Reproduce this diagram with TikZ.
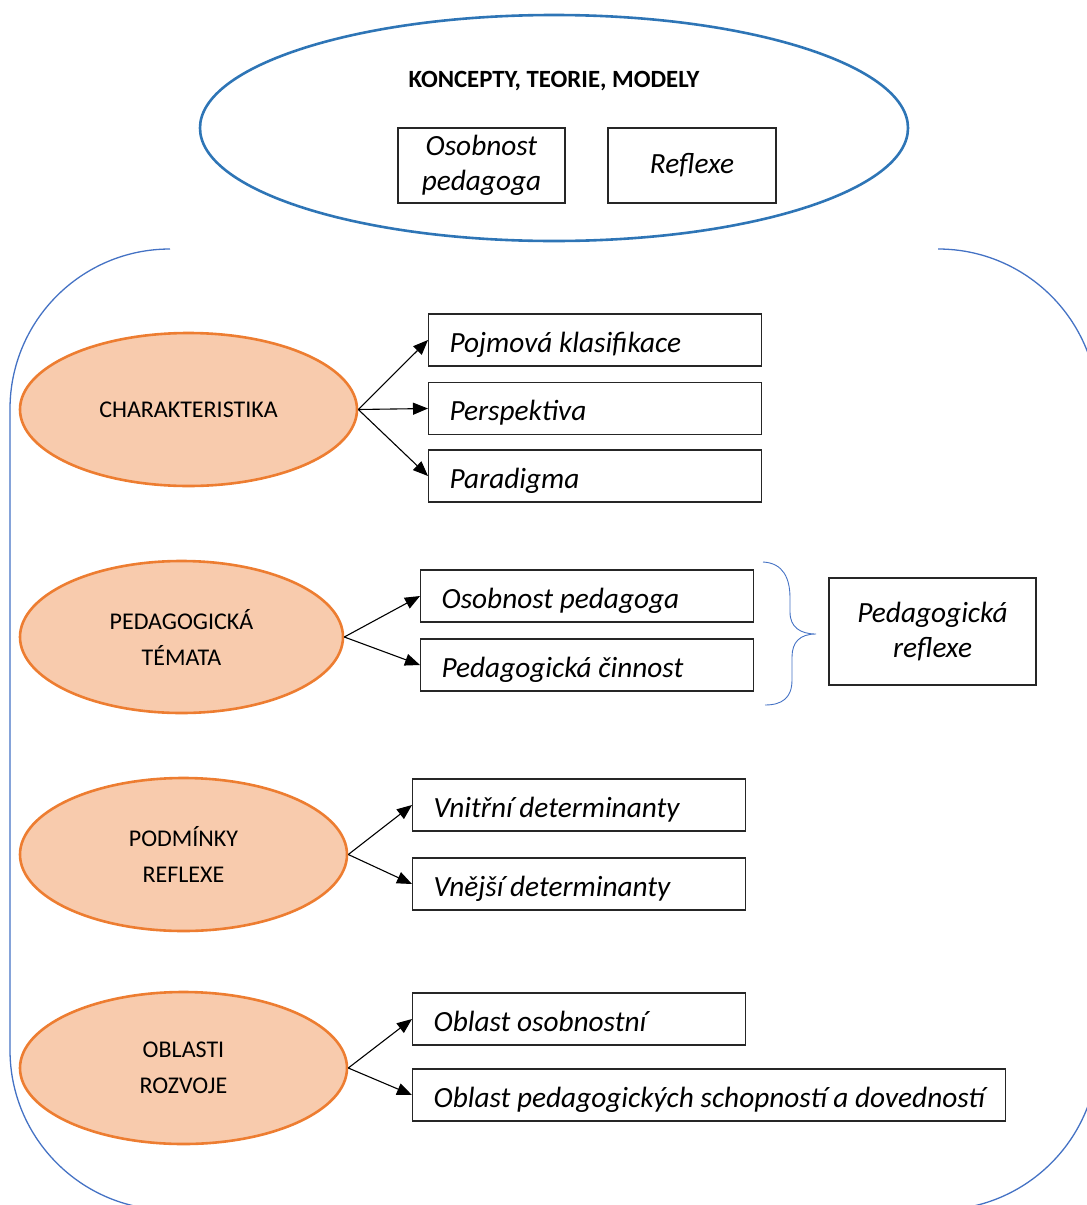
\documentclass[tikz,border=0pt]{standalone}
\usepackage{fontspec}
\setmainfont{Carlito}
\usetikzlibrary{shapes.geometric,arrows.meta}
\definecolor{frameblue}{HTML}{4472C4}
\definecolor{topblue}{HTML}{2E75B6}
\definecolor{ofill}{HTML}{F8CBAD}
\definecolor{oline}{HTML}{ED7D31}
\newcommand{\bt}[2]{\makebox[#1pt][l]{#2}}
\tikzset{
  oval/.style={ellipse, draw=oline, fill=ofill, line width=2.6pt, inner sep=0pt,
    font=\fontsize{24}{36}\selectfont, align=center},
  itembox/.style={draw=black!85, line width=1.2pt, anchor=west, minimum height=52pt,
    inner xsep=21pt, inner ysep=0pt, text height=24pt, text depth=0pt,
    font=\fontsize{29.3}{35}\selectfont\itshape},
  cbox/.style={draw=black!85, line width=1.2pt, inner sep=0pt, align=center,
    font=\fontsize{29.3}{35}\selectfont\itshape},
  arr/.style={-{Triangle[length=15pt,width=12pt]}, line width=1.1pt, black},
}
\begin{document}
\begin{tikzpicture}[x=1pt,y=-1pt]
\useasboundingbox (0,0) rectangle (1087,1205);
\clip (0,0) rectangle (1087,1205);
% outer frame
\draw[frameblue, line width=1.3pt] (170,249) arc[start angle=-90, end angle=-180, radius=160]
  -- (10,1050) arc[start angle=180, end angle=90, radius=160]
  -- (938,1210) arc[start angle=90, end angle=0, radius=160]
  -- (1098,409) arc[start angle=0, end angle=-90, radius=160];
% top ellipse
\node[ellipse, draw=topblue, line width=2.6pt, minimum width=708pt, minimum height=226pt] (top) at (554,128) {};
\node[font=\fontsize{24.8}{28}\selectfont\bfseries] (title) at (554,81) {KONCEPTY, TEORIE, MODELY};
\node[cbox, minimum width=167pt, minimum height=75pt] (tos) at (481.5,165.5) {Osobnost\\pedagoga};
\node[cbox, minimum width=168pt, minimum height=75pt] (tre) at (692,165.5) {Reflexe};
% ovals
\node[oval, minimum width=337pt, minimum height=153pt] (e1) at (188.5,409.5) {CHARAKTERISTIKA};
\node[oval, minimum width=323pt, minimum height=152pt] (e2) at (181.5,637) {PEDAGOGICKÁ\\TÉMATA};
\node[oval, minimum width=327pt, minimum height=153pt] (e3) at (183.5,854.5) {PODMÍNKY\\REFLEXE};
\node[oval, minimum width=327pt, minimum height=152pt] (e4) at (183.5,1068) {OBLASTI\\ROZVOJE};
% item boxes
\node[itembox] (b1) at (428,340) {\bt{291}{Pojmová klasifikace}};
\node[itembox] (b2) at (428,408.5) {\bt{291}{Perspektiva}};
\node[itembox] (b3) at (428,476) {\bt{291}{Paradigma}};
\node[itembox] (b4) at (420,596) {\bt{291}{Osobnost pedagoga}};
\node[itembox] (b5) at (420,665) {\bt{291}{Pedagogická činnost}};
\node[itembox] (b6) at (412,805) {\bt{291}{Vnitřní determinanty}};
\node[itembox] (b7) at (412,884) {\bt{291}{Vnější determinanty}};
\node[itembox] (b8) at (412,1019) {\bt{291}{Oblast osobnostní}};
\node[itembox] (b9) at (412,1095) {\bt{551}{Oblast pedagogických schopností a dovedností}};
\node[cbox, minimum width=207pt, minimum height=107pt] (pr) at (932.5,631.5) {Pedagogická\\reflexe};
% arrows
\foreach \b in {b1,b2,b3} \draw[arr] (e1.east) -- (\b.west);
\foreach \b in {b4,b5} \draw[arr] (e2.east) -- (\b.west);
\foreach \b in {b6,b7} \draw[arr] (e3.east) -- (\b.west);
\foreach \b in {b8,b9} \draw[arr] (e4.east) -- (\b.west);
% brace
\coordinate (bt) at (763,562);
\coordinate (btip) at (816,634);
\coordinate (bb) at (765,705);
\draw[frameblue, line width=0.9pt] (bt) .. controls (783,563) and (790,578) .. (790,598)
  -- (790,612) .. controls (790,627) and (800,634) .. (btip)
  .. controls (800,634) and (792,642) .. (792,657)
  -- (792,680) .. controls (792,698) and (782,705) .. (bb);
\end{tikzpicture}
\end{document}
